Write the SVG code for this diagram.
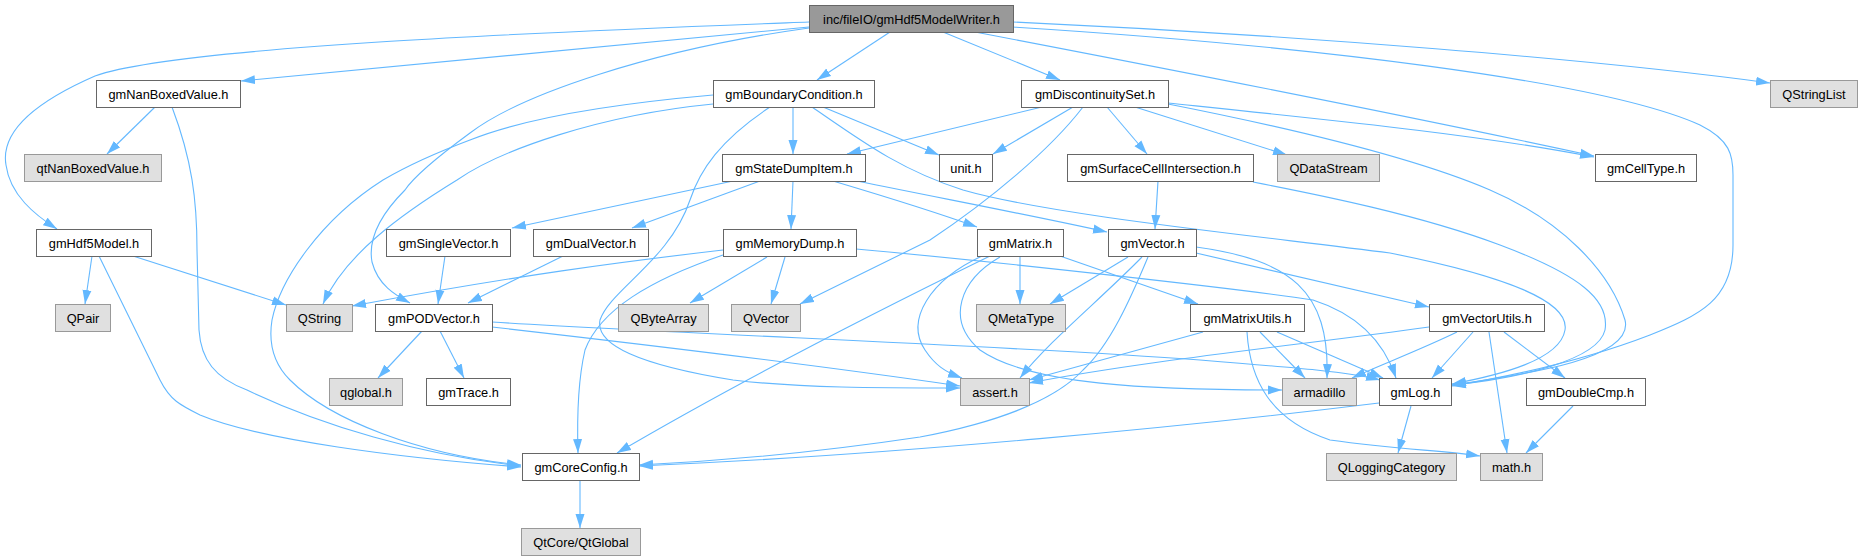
<svg xmlns="http://www.w3.org/2000/svg" width="1862" height="560" viewBox="0 0 1862 560">
<style>
.n rect{fill:#fff;stroke:#666;stroke-width:1}
.n.x rect{fill:#e0e0e0;stroke:#999}
.n.m rect{fill:#999;stroke:#666}
.n text{font-family:"Liberation Sans",Arial,sans-serif;font-size:12.8px;fill:#000;text-anchor:middle}
#edges path{fill:none;stroke:#63b8ff;stroke-width:1.1;marker-end:url(#a)}
</style>
<defs>
<marker id="a" markerUnits="userSpaceOnUse" markerWidth="15" markerHeight="10" refX="14" refY="5" orient="auto"><path d="M0,0.5 L14,5 L0,9.5 z" fill="#63b8ff"/></marker>
</defs>
<rect width="1862" height="560" fill="#fff"/>
<g id="edges">
<path d="M809,27 L241,81"/>
<path d="M809,22 C600,30 180,45 95,76 C40,100 0,130 6,165 C10,195 35,215 57,229"/>
<path d="M890,32 L817,80"/>
<path d="M943,32 L1060,80"/>
<path d="M1013,22 C1300,35 1600,60 1770,83"/>
<path d="M1013,27 C1300,45 1600,80 1700,125 C1730,140 1733,155 1733,175 L1733,245 C1733,300 1700,315 1650,335 C1580,362 1500,378 1452,386"/>
<path d="M975,32 C1200,75 1450,125 1594,156"/>
<path d="M809,28 C650,50 520,95 470,133 C440,155 415,175 405,190 C380,215 368,240 372,262 C378,285 395,295 410,303"/>
<path d="M155,107 L107,154"/>
<path d="M172,107 C192,160 197,200 197,250 L199,330 C201,360 215,378 247,390 C320,425 420,455 521,466"/>
<path d="M92,256 L85,304"/>
<path d="M133,256 L286,305"/>
<path d="M99,256 L160,380 C170,400 180,405 200,415 C260,440 400,458 521,467"/>
<path d="M793,107 L793,154"/>
<path d="M823,107 L939,155"/>
<path d="M713,104 C600,115 500,150 457,180 C400,215 345,255 323,304"/>
<path d="M713,95 C600,105 520,120 470,140 C430,155 400,170 383,180 C320,220 280,280 272,320 C268,345 275,365 290,380 C330,420 420,455 521,465"/>
<path d="M770,107 C720,140 700,170 690,200 C670,260 610,290 600,320 C595,345 640,365 733,380 C800,388 880,388 960,388"/>
<path d="M812,107 C860,140 900,170 963,190 C1050,215 1250,235 1390,253 C1500,275 1570,300 1565,330 C1560,360 1500,375 1452,384"/>
<path d="M1073,107 L993,154"/>
<path d="M1083,107 C1050,150 990,200 930,240 L800,304"/>
<path d="M1107,107 L1147,154"/>
<path d="M1135,107 L1287,155"/>
<path d="M1168,103 C1350,122 1480,135 1594,157"/>
<path d="M1168,104 C1300,130 1420,160 1490,190 C1560,220 1610,270 1625,320 C1635,360 1520,375 1452,385"/>
<path d="M1042,107 L847,154"/>
<path d="M1158,181 L1155,229"/>
<path d="M1253,182 C1320,195 1420,215 1500,245 C1580,275 1610,300 1605,330 C1598,360 1520,378 1452,385"/>
<path d="M733,181 L512,228"/>
<path d="M760,181 L632,228"/>
<path d="M793,181 L791,229"/>
<path d="M833,181 C880,195 930,210 977,227"/>
<path d="M857,181 C950,200 1030,215 1107,232"/>
<path d="M445,256 L438,304"/>
<path d="M563,256 L468,303"/>
<path d="M723,250 C620,262 520,275 352,306"/>
<path d="M767,257 L690,303"/>
<path d="M785,257 L771,304"/>
<path d="M856,249 C1000,262 1250,290 1313,300 C1360,315 1385,345 1396,378"/>
<path d="M723,255 C650,280 600,310 585,350 C578,380 577,420 578,453"/>
<path d="M1020,256 L1020,304"/>
<path d="M1060,256 L1198,304"/>
<path d="M982,256 C930,280 905,320 925,350 C935,365 945,372 962,378"/>
<path d="M1000,257 C960,280 945,320 980,350 C1030,385 1150,390 1282,390"/>
<path d="M990,256 C900,300 750,375 617,453"/>
<path d="M1128,257 L1050,304"/>
<path d="M1142,257 C1100,300 1050,340 1020,378"/>
<path d="M1148,257 C1130,300 1110,345 1083,370 C1060,395 1010,420 920,437 C800,455 700,462 639,465"/>
<path d="M1196,253 L1429,307"/>
<path d="M1196,247 C1290,260 1330,290 1327,378"/>
<path d="M1203,332 L1029,380"/>
<path d="M1260,332 L1305,378"/>
<path d="M1277,332 L1383,378"/>
<path d="M1247,332 C1250,380 1270,420 1330,440 C1400,450 1440,450 1480,456"/>
<path d="M1429,327 C1300,345 1150,360 1029,383"/>
<path d="M1457,332 C1420,350 1380,365 1352,378"/>
<path d="M1473,332 L1432,378"/>
<path d="M1489,332 L1507,453"/>
<path d="M1504,332 L1565,378"/>
<path d="M1573,406 L1526,453"/>
<path d="M1411,406 L1398,453"/>
<path d="M1379,403 C1200,425 900,455 639,466"/>
<path d="M580,480 L580,528"/>
<path d="M422,331 L378,378"/>
<path d="M440,331 L464,378"/>
<path d="M492,327 C650,345 850,370 960,386"/>
<path d="M492,322 C700,335 1000,345 1200,360 C1300,368 1350,372 1380,380"/>
</g>
<g id="main" class="n m"><rect x="809.5" y="5.5" width="204" height="27"/><text x="911.5" y="23.5">inc/fileIO/gmHdf5ModelWriter.h</text></g>
<g id="gmNanBoxedValue" class="n"><rect x="96.5" y="80.5" width="144" height="27"/><text x="168.5" y="98.5">gmNanBoxedValue.h</text></g>
<g id="gmBoundaryCondition" class="n"><rect x="713.5" y="80.5" width="161" height="27"/><text x="794" y="98.5">gmBoundaryCondition.h</text></g>
<g id="gmDiscontinuitySet" class="n"><rect x="1021.5" y="80.5" width="147" height="27"/><text x="1095" y="98.5">gmDiscontinuitySet.h</text></g>
<g id="QStringList" class="n x"><rect x="1770.5" y="80.5" width="87" height="27"/><text x="1814" y="98.5">QStringList</text></g>
<g id="qtNanBoxedValue" class="n x"><rect x="24.5" y="154.5" width="137" height="27"/><text x="93" y="172.5">qtNanBoxedValue.h</text></g>
<g id="gmStateDumpItem" class="n"><rect x="722.5" y="154.5" width="143" height="27"/><text x="794" y="172.5">gmStateDumpItem.h</text></g>
<g id="unit" class="n"><rect x="939.5" y="154.5" width="53" height="27"/><text x="966" y="172.5">unit.h</text></g>
<g id="gmSurfaceCellIntersection" class="n"><rect x="1067.5" y="154.5" width="186" height="27"/><text x="1160.5" y="172.5">gmSurfaceCellIntersection.h</text></g>
<g id="QDataStream" class="n x"><rect x="1277.5" y="154.5" width="102" height="27"/><text x="1328.5" y="172.5">QDataStream</text></g>
<g id="gmCellType" class="n"><rect x="1595.5" y="154.5" width="101" height="27"/><text x="1646" y="172.5">gmCellType.h</text></g>
<g id="gmHdf5Model" class="n"><rect x="36.5" y="229.5" width="115" height="27"/><text x="94" y="247.5">gmHdf5Model.h</text></g>
<g id="gmSingleVector" class="n"><rect x="386.5" y="229.5" width="124" height="27"/><text x="448.5" y="247.5">gmSingleVector.h</text></g>
<g id="gmDualVector" class="n"><rect x="533.5" y="229.5" width="115" height="27"/><text x="591" y="247.5">gmDualVector.h</text></g>
<g id="gmMemoryDump" class="n"><rect x="723.5" y="229.5" width="133" height="27"/><text x="790" y="247.5">gmMemoryDump.h</text></g>
<g id="gmMatrix" class="n"><rect x="977.5" y="229.5" width="86" height="27"/><text x="1020.5" y="247.5">gmMatrix.h</text></g>
<g id="gmVector" class="n"><rect x="1108.5" y="229.5" width="88" height="27"/><text x="1152.5" y="247.5">gmVector.h</text></g>
<g id="QPair" class="n x"><rect x="55.5" y="304.5" width="55" height="27"/><text x="83" y="322.5">QPair</text></g>
<g id="QString" class="n x"><rect x="286.5" y="304.5" width="66" height="27"/><text x="319.5" y="322.5">QString</text></g>
<g id="gmPODVector" class="n"><rect x="375.5" y="304.5" width="117" height="27"/><text x="434" y="322.5">gmPODVector.h</text></g>
<g id="QByteArray" class="n x"><rect x="618.5" y="304.5" width="90" height="27"/><text x="663.5" y="322.5">QByteArray</text></g>
<g id="QVector" class="n x"><rect x="731.5" y="304.5" width="69" height="27"/><text x="766" y="322.5">QVector</text></g>
<g id="QMetaType" class="n x"><rect x="976.5" y="304.5" width="89" height="27"/><text x="1021" y="322.5">QMetaType</text></g>
<g id="gmMatrixUtils" class="n"><rect x="1190.5" y="304.5" width="114" height="27"/><text x="1247.5" y="322.5">gmMatrixUtils.h</text></g>
<g id="gmVectorUtils" class="n"><rect x="1429.5" y="304.5" width="115" height="27"/><text x="1487" y="322.5">gmVectorUtils.h</text></g>
<g id="qglobal" class="n x"><rect x="329.5" y="378.5" width="73" height="27"/><text x="366" y="396.5">qglobal.h</text></g>
<g id="gmTrace" class="n"><rect x="426.5" y="378.5" width="84" height="27"/><text x="468.5" y="396.5">gmTrace.h</text></g>
<g id="assert" class="n x"><rect x="960.5" y="378.5" width="69" height="27"/><text x="995" y="396.5">assert.h</text></g>
<g id="armadillo" class="n x"><rect x="1282.5" y="378.5" width="74" height="27"/><text x="1319.5" y="396.5">armadillo</text></g>
<g id="gmLog" class="n"><rect x="1379.5" y="378.5" width="72" height="27"/><text x="1415.5" y="396.5">gmLog.h</text></g>
<g id="gmDoubleCmp" class="n"><rect x="1526.5" y="378.5" width="119" height="27"/><text x="1586" y="396.5">gmDoubleCmp.h</text></g>
<g id="gmCoreConfig" class="n"><rect x="522.5" y="453.5" width="117" height="27"/><text x="581" y="471.5">gmCoreConfig.h</text></g>
<g id="QLoggingCategory" class="n x"><rect x="1326.5" y="453.5" width="130" height="27"/><text x="1391.5" y="471.5">QLoggingCategory</text></g>
<g id="math" class="n x"><rect x="1480.5" y="453.5" width="62" height="27"/><text x="1511.5" y="471.5">math.h</text></g>
<g id="QtGlobal" class="n x"><rect x="521.5" y="528.5" width="119" height="27"/><text x="581" y="546.5">QtCore/QtGlobal</text></g>
</svg>
